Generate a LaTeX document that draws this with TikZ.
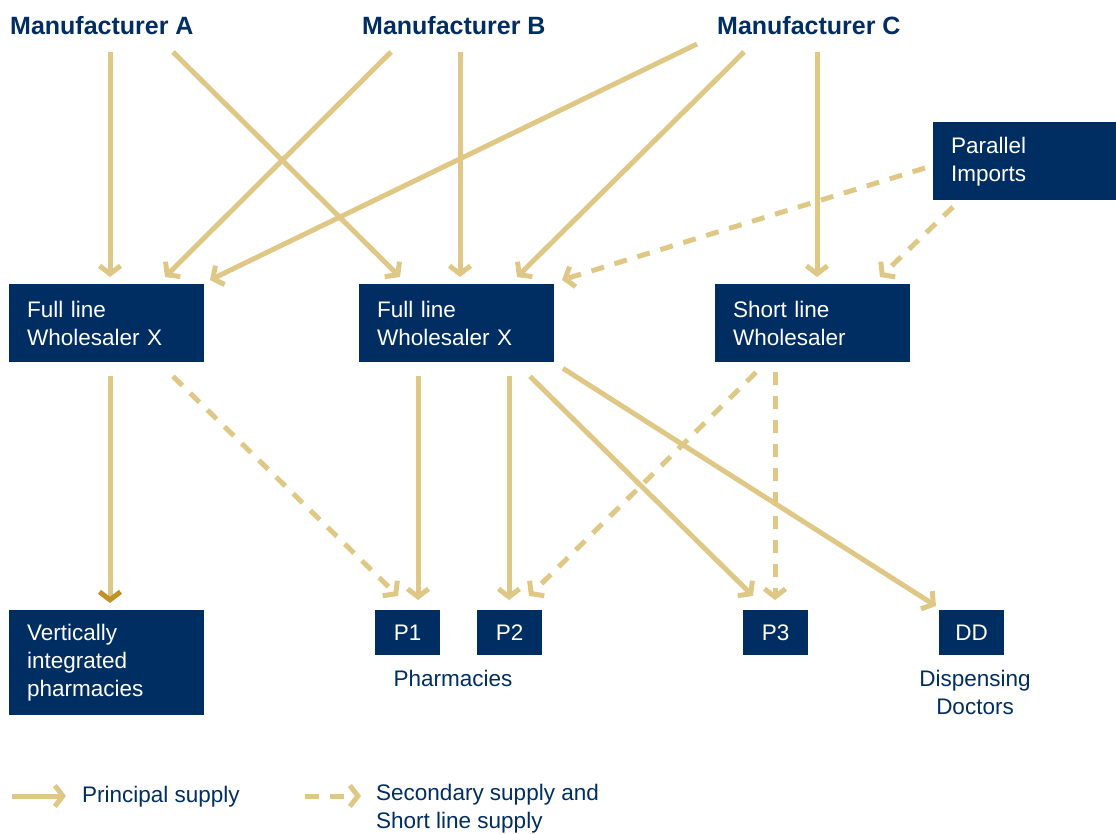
\documentclass[tikz,border=0pt]{standalone}
\usepackage{fontspec}
\setmainfont{Liberation Sans}
\usetikzlibrary{arrows.meta}
\definecolor{navy}{RGB}{0,45,98}
\definecolor{gold}{RGB}{223,200,134}
\definecolor{tipgold}{RGB}{192,146,40}
\tikzset{
  mfr/.style={inner sep=0pt, anchor=base west, text=navy, font=\fontsize{25}{30}\selectfont\bfseries},
  box/.style={fill=navy, text=white, anchor=north west, inner xsep=18pt, inner ysep=0pt,
    align=left, font=\fontsize{22.5}{28}\selectfont, minimum height=78pt, text width=159pt},
  pbox/.style={fill=navy, text=white, anchor=north west, inner sep=0pt,
    minimum width=65pt, minimum height=45pt, font=\fontsize{22.5}{28}\selectfont},
  lbl/.style={text=navy, align=center, inner sep=0pt, font=\fontsize{22.5}{28}\selectfont},
  principal/.style={draw=gold, line width=5pt, -{Straight Barb[length=8pt,width=21pt]}},
  secondary/.style={principal, dash pattern=on 13pt off 11pt},
}
\begin{document}
\begin{tikzpicture}[x=1pt,y=-1pt]
\useasboundingbox (0,0) rectangle (1116,834);
% manufacturers
\node[mfr] (ma) at (10,35) {Manufacturer A};
\node[mfr] (mb) at (362,35) {Manufacturer B};
\node[mfr] (mc) at (717,35) {Manufacturer C};
% wholesalers
\node[box] (w1) at (9,284) {Full line\\Wholesaler X};
\node[box] (w2) at (359,284) {Full line\\Wholesaler X};
\node[box] (sw) at (715,284) {Short line\\Wholesaler};
\node[box, text width=147pt] (pi) at (933,122) {Parallel\\Imports};
% outlets
\node[box, minimum height=105pt] (vi) at (9,610) {Vertically\\integrated\\pharmacies};
\node[pbox] (p1) at (375,610) {P1};
\node[pbox] (p2) at (477,610) {P2};
\node[pbox] (p3) at (743,610) {P3};
\node[pbox] (dd) at (939,610) {DD};
\node[lbl] (pharm) at (453,678) {Pharmacies};
\node[lbl, anchor=north] (ddl) at (975,670) {Dispensing\\Doctors};
% manufacturer arrows
\draw[principal] ([xshift=100pt,yshift=-17pt]ma.base west) -- ([xshift=101pt,yshift=7pt]w1.north west);
\draw[principal] ([xshift=163pt,yshift=-17pt]ma.base west) -- ([xshift=41pt,yshift=7pt]w2.north west);
\draw[principal] ([xshift=29pt,yshift=-17pt]mb.base west) -- ([xshift=156pt,yshift=7pt]w1.north west);
\draw[principal] ([xshift=98pt,yshift=-17pt]mb.base west) -- ([xshift=101pt,yshift=7pt]w2.north west);
\draw[principal] ([xshift=-20pt,yshift=-9pt]mc.base west) -- ([xshift=201pt,yshift=4pt]w1.north west);
\draw[principal] ([xshift=27pt,yshift=-17pt]mc.base west) -- ([xshift=158pt,yshift=7pt]w2.north west);
\draw[principal] ([xshift=100pt,yshift=-17pt]mc.base west) -- ([xshift=102pt,yshift=7pt]sw.north west);
% parallel imports
\draw[secondary] ([xshift=-8pt,yshift=-46pt]pi.north west) -- ([xshift=203pt,yshift=4pt]w2.north west);
\draw[secondary] ([xshift=20pt,yshift=-85pt]pi.north west) -- ([xshift=165pt,yshift=7pt]sw.north west);
% wholesaler 1
\draw[draw=gold, line width=5pt, -{Straight Barb[length=8pt,width=21pt,color=tipgold]}]
  ([xshift=101pt,yshift=-14pt]w1.south west) -- ([xshift=101pt,yshift=7pt]vi.north west);
\draw[secondary] ([xshift=164pt,yshift=-14pt]w1.south west) -- ([xshift=23pt,yshift=14pt]p1.north west);
% wholesaler 2
\draw[principal] ([xshift=59pt,yshift=-14pt]w2.south west) -- ([xshift=43pt,yshift=10pt]p1.north west);
\draw[principal] ([xshift=150pt,yshift=-14pt]w2.south west) -- ([xshift=32pt,yshift=10pt]p2.north west);
\draw[principal] ([xshift=171pt,yshift=-14pt]w2.south west) -- ([xshift=10pt,yshift=14pt]p3.north west);
\draw[principal] ([xshift=204pt,yshift=-6pt]w2.south west) -- ([xshift=-3pt,yshift=4pt]dd.north west);
% short line
\draw[secondary] ([xshift=41pt,yshift=-10pt]sw.south west) -- ([xshift=52pt,yshift=14pt]p2.north west);
\draw[secondary] ([xshift=60pt,yshift=-10pt]sw.south west) -- ([xshift=32pt,yshift=10pt]p3.north west);
% legend
\node[lbl, anchor=west] (lg1) at (82,797) {Principal supply};
\node[lbl, anchor=north west, align=left] (lg2) at (376,784) {Secondary supply and\\Short line supply};
\coordinate (ls1) at (12,796);
\coordinate (ls2) at (305,796);
\draw[principal] (ls1) -- ([xshift=-16pt]lg1.west |- ls1);
\draw[secondary, dash pattern=on 14pt off 11pt] (ls2) -- ([xshift=-15pt]lg2.north west |- ls2);
\end{tikzpicture}
\end{document}
